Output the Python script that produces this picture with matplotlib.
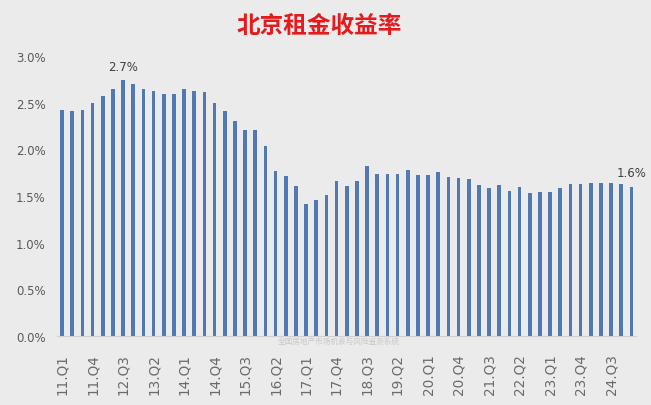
import matplotlib
matplotlib.use("Agg")
import matplotlib.pyplot as plt
import numpy as np

plt.rcParams['font.family'] = ['DejaVu Sans', 'Noto Sans CJK SC']

# Quarterly rent yield, Beijing (%)
years = list(range(11, 26))
quarters = [f"{y}.Q{q}" for y in years for q in range(1, 5)][:57]
values = [2.42, 2.41, 2.42, 2.49, 2.57, 2.64, 2.74, 2.70, 2.65, 2.62,
          2.59, 2.59, 2.64, 2.62, 2.61, 2.50, 2.41, 2.30, 2.21, 2.21,
          2.03, 1.77, 1.71, 1.61, 1.41, 1.46, 1.51, 1.66, 1.61, 1.66,
          1.82, 1.73, 1.73, 1.73, 1.78, 1.72, 1.72, 1.76, 1.70, 1.69,
          1.68, 1.62, 1.58, 1.62, 1.55, 1.60, 1.53, 1.54, 1.54, 1.58,
          1.63, 1.63, 1.64, 1.64, 1.64, 1.63, 1.60]
callouts = {6: "2.7%", 56: "1.6%"}

BG = "#ebebeb"
BAR = "#5079b3"

fig = plt.figure(figsize=(6.51, 4.06), dpi=100, facecolor=BG)
ax = fig.add_axes([0.0876, 0.170, 0.890, 0.690], facecolor=BG)

x = np.arange(len(values))
ax.bar(x, values, width=0.36, color=BAR)

for i, txt in callouts.items():
    ax.text(x[i], values[i] + 0.08, txt, ha="center", va="bottom",
            fontsize=8.5, color="#404040")

ax.set_xlim(-0.5, len(values) - 0.5)
ax.set_ylim(0, 3.0)
ax.set_yticks(np.arange(0, 3.01, 0.5))
ax.set_yticklabels([f"{v:.1f}%" for v in np.arange(0, 3.01, 0.5)],
                   fontsize=8.5, color="#595959")
ax.set_xticks(x[::3])
ax.set_xticklabels(quarters[::3], rotation=90, fontsize=9.8, color="#6a6a6a")
ax.tick_params(length=0, pad=8)
ax.tick_params(axis="x", pad=12)

for side in ["top", "right", "left"]:
    ax.spines[side].set_visible(False)
ax.spines["bottom"].set_color("#d0d0d0")

fig.text(0.49, 0.935, "北京租金收益率", ha="center", va="center",
         fontsize=17, fontweight="bold", color="#e41a1c",
         family=["Noto Sans CJK SC", "DejaVu Sans"])
fig.text(0.52, 0.155, "全国房地产市场机会与风险监测系统", ha="center", va="center",
         fontsize=5.5, color="#c8c8c8", family=["Noto Sans CJK SC", "DejaVu Sans"])

fig.savefig("out.png", dpi=100, facecolor=BG)
